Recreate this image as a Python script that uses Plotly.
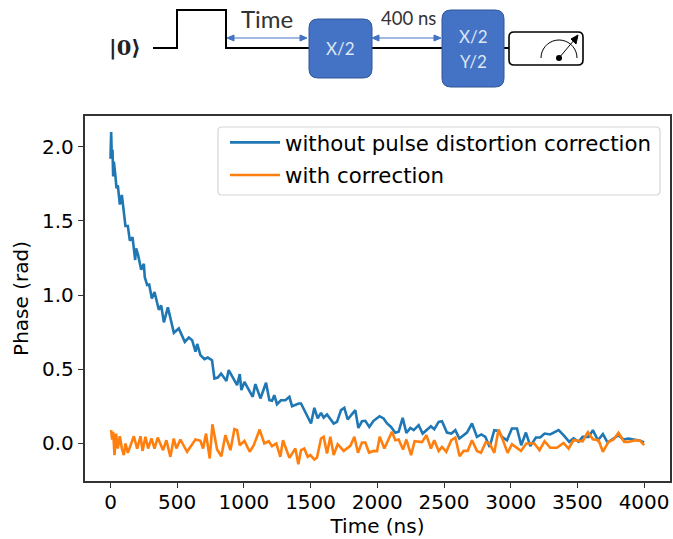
import plotly.graph_objects as go
import math

time_blue = [0,5,10,15,20,25,35,45,55,70,85,95,112,130,145,165,185,192,207,230,250,257,275,290,310,330,362,380,400,430,475,512,537,557,587,612,637,650,674,704,729,761,779,804,829,854,869,886,924,949,969,981,1004,1049,1066,1086,1124,1166,1191,1211,1228,1248,1278,1311,1341,1361,1411,1428,1461,1503,1528,1553,1578,1598,1623,1673,1698,1728,1753,1778,1835,1858,1885,1910,1940,1972,2017,2047,2073,2103,2135,2160,2190,2218,2248,2273,2310,2340,2402,2427,2460,2485,2522,2555,2585,2615,2672,2710,2747,2780,2810,2842,2877,2909,2934,2972,3009,3047,3079,3114,3147,3189,3221,3254,3296,3359,3396,3439,3471,3509,3539,3584,3616,3654,3691,3726,3808,3846,3883,3921,3971,4000]
phase_blue = [1.92,2.10,1.92,1.98,1.80,1.90,1.82,1.72,1.74,1.61,1.675,1.60,1.466,1.466,1.367,1.39,1.236,1.315,1.27,1.17,1.21,1.12,1.067,1.07,0.977,1.02,0.90,0.93,0.815,0.917,0.745,0.774,0.718,0.684,0.713,0.695,0.617,0.67,0.594,0.567,0.578,0.56,0.436,0.443,0.47,0.436,0.42,0.493,0.436,0.392,0.466,0.358,0.414,0.347,0.313,0.399,0.302,0.408,0.29,0.286,0.324,0.263,0.29,0.29,0.313,0.25,0.268,0.268,0.212,0.133,0.239,0.167,0.205,0.173,0.194,0.133,0.144,0.223,0.239,0.16,0.223,0.103,0.148,0.151,0.11,0.151,0.182,0.167,0.133,0.11,0.07,0.077,0.171,0.07,0.103,0.088,0.122,0.065,0.115,0.095,0.144,0.148,0.072,0.065,0.088,0.032,0.072,0.133,0.043,0.059,0.043,-0.025,0.088,0.083,0.043,0.02,0.099,0.099,-0.014,0.072,-0.02,0.038,0.038,0.065,0.059,0.088,0.054,0.009,0.032,0.009,0.043,0.043,0.088,0.02,0.061,0.005,0.054,0.025,0.032,0.025,0.016,0.005]

time_orange = [5,12,20,30,42,55,70,85,100,112,130,150,175,200,225,240,262,282,307,330,354,394,419,449,474,494,524,574,637,674,694,716,744,764,799,831,861,899,929,949,969,1004,1044,1074,1118,1153,1186,1211,1243,1273,1293,1341,1386,1408,1428,1453,1478,1498,1528,1548,1578,1598,1623,1648,1673,1703,1748,1798,1828,1855,1885,1910,1938,1973,1998,2018,2053,2110,2135,2160,2193,2218,2253,2280,2335,2368,2402,2427,2460,2485,2517,2555,2585,2617,2647,2677,2710,2747,2777,2814,2842,2877,2909,2942,2977,3009,3077,3117,3177,3216,3254,3296,3346,3396,3434,3471,3539,3579,3616,3659,3691,3733,3771,3808,3851,3883,3933,3971,4000]
phase_orange = [0.088,0.025,0.077,-0.08,0.065,-0.036,0.047,-0.036,-0.08,-0.002,-0.065,-0.014,0.047,-0.036,0.047,-0.052,0.043,-0.036,0.032,-0.036,0.038,-0.047,0.02,-0.092,0.032,-0.036,0.025,-0.058,0.025,0.016,-0.036,0.065,-0.103,0.128,-0.043,-0.088,0.054,-0.047,0.095,0.088,-0.014,0.016,-0.058,-0.014,0.092,-0.002,0.013,-0.02,-0.002,-0.092,0.02,-0.099,-0.036,-0.142,-0.047,-0.036,-0.092,-0.08,-0.11,-0.097,0.032,0.043,-0.07,0.043,-0.08,-0.007,-0.052,-0.018,0.043,-0.065,0.005,0.005,-0.063,-0.052,-0.054,0.043,-0.036,0.077,0.02,0.025,-0.043,0.025,-0.08,0.013,0.007,0.054,-0.036,0.02,-0.052,-0.025,-0.058,0.02,0.038,-0.088,-0.052,-0.052,0.02,-0.052,-0.065,0.009,-0.002,-0.065,0.092,0.02,-0.065,-0.007,-0.052,-0.002,-0.002,-0.047,0.013,-0.031,-0.031,0.002,-0.036,0.02,0.013,0.075,0.027,0.02,-0.058,0.009,0.025,0.07,0.009,0.009,0.02,0.016,-0.014]

series_names = ["without pulse distortion correction", "with correction"]
x_ticks = [0,500,1000,1500,2000,2500,3000,3500,4000]
y_ticks = [0.0,0.5,1.0,1.5,2.0]

W, H = 673, 539
L, R, T, B = 85, 670, 116, 481
PW, PH = R - L, B - T
FONT = "DejaVu Sans"
BLUE, ORANGE = "#1f77b4", "#ff7f0e"
GATE = "#4472c4"
FRAME = "#333333"
X0, XS, Y0, YS = 110.5, 0.1334, 443.2, 148.2

def X(p): return (p - L) / PW
def Y(p): return (B - p) / PH

fig = go.Figure()
fig.add_trace(go.Scatter(x=time_blue, y=phase_blue, mode="lines", name=series_names[0], legendgroup="a",
                         line=dict(color=BLUE, width=2.6)))
fig.add_trace(go.Scatter(x=time_orange, y=phase_orange, mode="lines", name=series_names[1], legendgroup="b",
                         line=dict(color=ORANGE, width=2.6)))

shapes, annotations = [], []

def line(x0, y0, x1, y1, color="black", width=2):
    shapes.append(dict(type="line", xref="paper", yref="paper", x0=X(x0), y0=Y(y0), x1=X(x1), y1=Y(y1),
                       line=dict(color=color, width=width)))

def pathpx(points, color="black", width=2, fill=None, close=False):
    d = "M " + " L ".join(f"{X(a):.5f},{Y(b):.5f}" for a, b in points) + (" Z" if close else "")
    shapes.append(dict(type="path", xref="paper", yref="paper", path=d,
                       line=dict(color=color, width=width), fillcolor=fill))

def rrect(x0, y0, x1, y1, r, fill, color, width=1):
    seq = [(x1-r,y0),(x1,y0,x1,y0+r),(x1,y1-r),(x1,y1,x1-r,y1),(x0+r,y1),(x0,y1,x0,y1-r),(x0,y0+r),(x0,y0,x0+r,y0)]
    d = f"M {X(x0+r):.5f},{Y(y0):.5f}"
    for s in seq:
        if len(s) == 2:
            d += f" L {X(s[0]):.5f},{Y(s[1]):.5f}"
        else:
            d += f" Q {X(s[0]):.5f},{Y(s[1]):.5f} {X(s[2]):.5f},{Y(s[3]):.5f}"
    shapes.append(dict(type="path", xref="paper", yref="paper", path=d + " Z",
                       fillcolor=fill, line=dict(color=color, width=width)))

def text(x, y, s, size, color="#222222", family="Lato"):
    annotations.append(dict(xref="paper", yref="paper", x=X(x), y=Y(y), text=s, showarrow=False,
                            xanchor="center", yanchor="middle", font=dict(size=size, color=color, family=family)))

# legend frame with rounded corners
rrect(218,127,660,195,4,"rgba(255,255,255,0)","#d5d5d5",1.2)

# circuit diagram above the axes
pathpx([(153,48),(177,48),(177,10),(226,10),(226,48),(310,48)])
line(372,48,443,48)
line(504,48,510,48)
rrect(309,19,372,78,9,GATE,"#2f5597")
rrect(442,10,504,87,9,GATE,"#2f5597")
rrect(509,32,583,65,5,"white","black",1.6)
for a, b in [(227,307),(372,441)]:
    line(a+4,38,b-4,38,GATE,1)
    pathpx([(a,38),(a+7,35),(a+7,41)],GATE,1,GATE,True)
    pathpx([(b,38),(b-7,35),(b-7,41)],GATE,1,GATE,True)
cx, cy, rad = 559, 58, 18
pathpx([(cx + rad*math.cos(math.radians(a)), cy - rad*math.sin(math.radians(a))) for a in range(0,181,10)],"black",1)
line(cx,cy,575,39,"black",1)
pathpx([(578,35),(571,39),(576,44)],"black",1,"black",True)
shapes.append(dict(type="circle", xref="paper", yref="paper", x0=X(cx-3), x1=X(cx+3), y0=Y(cy+3), y1=Y(cy-3),
                   fillcolor="black", line=dict(color="black", width=0)))
text(267,18,"Time",24,"#333333")
text(408,18,"400 ns",18.5,"#333333")
text(340,49,"X/2",17,"#dce6f5")
text(473,36,"X/2",17,"#dce6f5")
text(473,62,"Y/2",17,"#dce6f5")
text(125,47,"<b>|0⟩</b>",21,"#222222","DejaVu Serif")

fig.update_layout(
    width=W, height=H, margin=dict(l=L, r=W-R, t=T, b=H-B, autoexpand=False),
    paper_bgcolor="white", plot_bgcolor="white",
    font=dict(family=FONT, size=20, color="black"),
    shapes=shapes, annotations=annotations,
    legend=dict(x=X(225), y=Y(122), xanchor="left", yanchor="top", bgcolor="rgba(0,0,0,0)",
                borderwidth=0, font=dict(size=21.3, family=FONT),
                itemwidth=50, tracegroupgap=2, groupclick="toggleitem"),
    showlegend=True,
    xaxis=dict(range=[(L-X0)/XS,(R-X0)/XS], tickmode="array", tickvals=x_ticks,
               ticktext=[str(v) for v in x_ticks], ticks="outside", ticklen=5.5, tickwidth=1.3, tickcolor=FRAME,
               showgrid=False, zeroline=False, showline=True, mirror=True, linecolor=FRAME, linewidth=1.5,
               title=dict(text="Time (ns)", font=dict(size=20), standoff=4), tickfont=dict(size=20),
               ticklabelstandoff=-3),
    yaxis=dict(range=[(Y0-B)/YS,(Y0-T)/YS], tickmode="array", tickvals=y_ticks,
               ticktext=[f"{v:.1f}" for v in y_ticks], ticks="outside", ticklen=5.5, tickwidth=1.3, tickcolor=FRAME,
               showgrid=False, zeroline=False, showline=True, mirror=True, linecolor=FRAME, linewidth=1.5,
               title=dict(text="Phase (rad)", font=dict(size=20), standoff=8), tickfont=dict(size=20)),
)
fig.write_html("out.html", config={"displayModeBar": False}, post_script="document.body.style.margin='0';")
